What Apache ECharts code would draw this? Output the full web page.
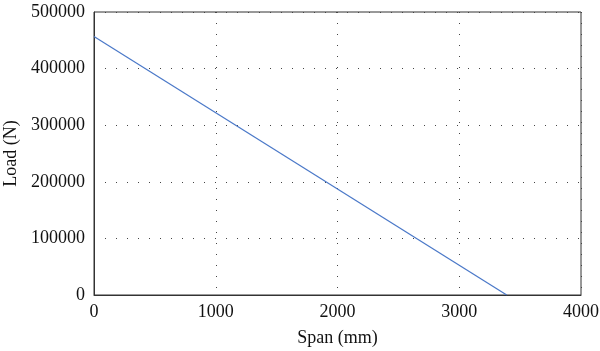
<!DOCTYPE html>
<html>
<head>
<meta charset="utf-8">
<script src="https://cdn.jsdelivr.net/npm/echarts@6/dist/echarts.min.js"></script>
<style>
  html, body { margin: 0; padding: 0; background: #fff; }
  #main { width: 600px; height: 351px; }
</style>
</head>
<body>
<div id="main"></div>
<script>
var spanMm = [0, 3390];
var loadN = [456800, 0];
var xTicks = [0, 1000, 2000, 3000, 4000];
var yTicks = [0, 100000, 200000, 300000, 400000, 500000];

var chart = echarts.init(document.getElementById('main'));
var font = '"Liberation Serif", "DejaVu Serif", serif';
var gridLine = { show: true, lineStyle: { color: '#444', type: [1, 10], width: 1 } };
var plain = function (v) { return String(v); };

chart.setOption({
    animation: false,
    grid: {
        left: 94, right: 19, top: 12, bottom: 56,
        outerBoundsMode: 'none', containLabel: false,
        show: true, borderColor: '#333', borderWidth: 1
    },
    xAxis: {
        type: 'value', min: xTicks[0], max: xTicks[xTicks.length - 1], interval: 1000,
        name: 'Span (mm)', nameLocation: 'middle', nameGap: 34,
        nameTextStyle: { fontFamily: font, fontSize: 18, color: '#111' },
        axisLine: { show: true, lineStyle: { color: '#333' } },
        axisTick: { show: false },
        axisLabel: { fontFamily: font, fontSize: 18, color: '#111', margin: 8, formatter: plain },
        splitLine: gridLine
    },
    yAxis: {
        type: 'value', min: yTicks[0], max: yTicks[yTicks.length - 1], interval: 100000,
        name: 'Load (N)', nameLocation: 'middle', nameGap: 72,
        nameTextStyle: { fontFamily: font, fontSize: 18, color: '#111' },
        axisLine: { show: true, lineStyle: { color: '#333' } },
        axisTick: { show: false },
        axisLabel: { fontFamily: font, fontSize: 18, color: '#111', margin: 9, formatter: plain },
        splitLine: gridLine
    },
    series: [{
        type: 'line',
        data: spanMm.map(function (x, i) { return [x, loadN[i]]; }),
        showSymbol: false,
        lineStyle: { color: '#4a78c8', width: 1.2 }
    }]
});
</script>
</body>
</html>
